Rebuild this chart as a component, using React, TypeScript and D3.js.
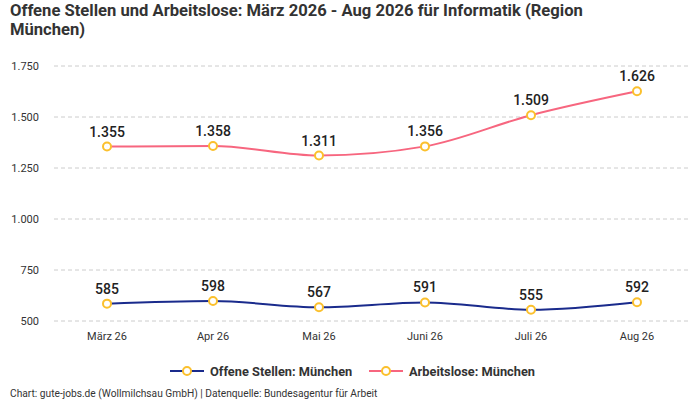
import React from "react";
import * as d3 from "d3";

const categories = ["März 26", "Apr 26", "Mai 26", "Juni 26", "Juli 26", "Aug 26"];
const offeneStellen = [585, 598, 567, 591, 555, 592];
const arbeitslose = [1355, 1358, 1311, 1356, 1509, 1626];
const yTicks = [500, 750, 1000, 1250, 1500, 1750];
const seriesNames = ["Offene Stellen: München", "Arbeitslose: München"];
const seriesColors = ["#1a2b8c", "#f7667f"];
const markerColor = "#fbc02d";

const W = 700;
const H = 400;
const FONT = "Roboto, 'Noto Sans', sans-serif";

const fmt = (v: number) => d3.format(",")(v).replace(/,/g, ".");

export default function App() {
  const x = d3.scaleBand<string>().domain(categories).range([54, 690]);
  const y = d3.scaleLinear().domain([500, 1750]).range([321, 66]);
  const cx = (c: string) => (x(c) ?? 0) + x.bandwidth() / 2;

  const line = d3
    .line<number>()
    .x((_, i) => cx(categories[i]))
    .y((d) => y(d))
    .curve(d3.curveMonotoneX);

  const series = [offeneStellen, arbeitslose];

  return (
    <svg
      width={W}
      height={H}
      style={{ position: "absolute", left: 0, top: 0, background: "#fff" }}
      fontFamily={FONT}
    >
      <text x={10} y={16} fontSize={16.6} fontWeight={700} fill="#333">
        Offene Stellen und Arbeitslose: März 2026 - Aug 2026 für Informatik (Region
      </text>
      <text x={10} y={35} fontSize={16.6} fontWeight={700} fill="#333">
        München)
      </text>

      {yTicks.map((t) => (
        <g key={t}>
          <line
            x1={54}
            x2={690}
            y1={y(t)}
            y2={y(t)}
            stroke="#cccccc"
            strokeDasharray="4,3"
            strokeWidth={1}
          />
          <text x={39} y={y(t) + 4} fontSize={11} textAnchor="end" fill="#333">
            {fmt(t)}
          </text>
        </g>
      ))}

      {categories.map((c) => (
        <text key={c} x={cx(c)} y={340} fontSize={11} textAnchor="middle" fill="#333">
          {c}
        </text>
      ))}

      {series.map((s, si) => (
        <g key={si}>
          <path d={line(s) ?? ""} fill="none" stroke={seriesColors[si]} strokeWidth={2} />
          {s.map((v, i) => (
            <g key={i}>
              <circle
                cx={cx(categories[i])}
                cy={y(v)}
                r={4}
                fill="#fff"
                stroke={markerColor}
                strokeWidth={2}
              />
              <text
                x={cx(categories[i])}
                y={y(v) - 10}
                fontSize={14}
                fontWeight={500}
                textAnchor="middle"
                fill="#222"
              >
                {fmt(v)}
              </text>
            </g>
          ))}
        </g>
      ))}

      {/* Legend */}
      {[
        { x0: 170, tx: 210 },
        { x0: 369, tx: 409 },
      ].map((l, i) => (
        <g key={i}>
          <line x1={l.x0} x2={l.x0 + 34} y1={371} y2={371} stroke={seriesColors[i]} strokeWidth={2} />
          <circle cx={l.x0 + 17} cy={371} r={4} fill="#fff" stroke={markerColor} strokeWidth={2} />
          <text x={l.tx} y={375.5} fontSize={12.8} fontWeight={700} fill="#333">
            {seriesNames[i]}
          </text>
        </g>
      ))}

      <text x={10} y={397} fontSize={10.2} fill="#333">
        Chart: gute-jobs.de (Wollmilchsau GmbH) | Datenquelle: Bundesagentur für Arbeit
      </text>
    </svg>
  );
}
